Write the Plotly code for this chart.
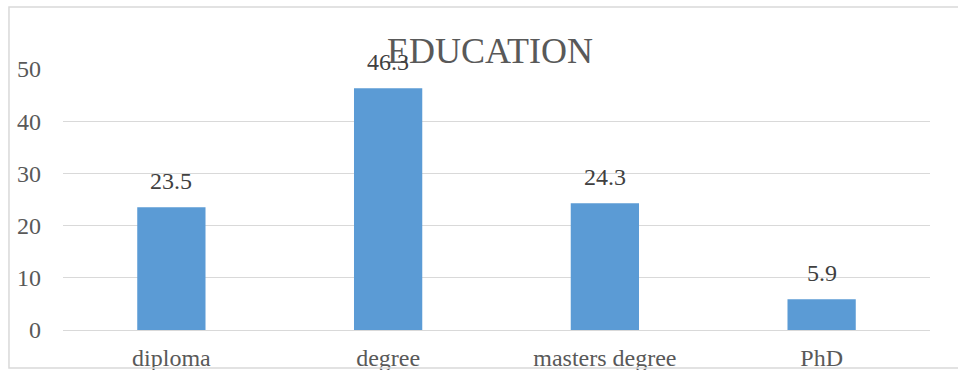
import plotly.graph_objects as go

categories = ["diploma", "degree", "masters degree", "PhD"]
values = [23.5, 46.3, 24.3, 5.9]
y_ticks = [0, 10, 20, 30, 40, 50]
title_text = "EDUCATION"

FONT = "Liberation Serif, Times New Roman, serif"

fig = go.Figure()
fig.add_trace(go.Bar(
    x=categories, y=values,
    marker=dict(color="#5b9bd5", line=dict(width=0)),
    width=0.315,
    hoverinfo="x+y",
))

for c, v in zip(categories, values):
    fig.add_annotation(
        x=c, y=v, text=str(v), showarrow=False,
        yanchor="bottom", yshift=11,
        font=dict(family=FONT, size=24, color="#404040"),
    )

# chart border
fig.add_shape(
    type="rect", xref="paper", yref="paper",
    x0=-0.0623, x1=1.04, y0=-0.1456, y1=1.2375,
    line=dict(color="#d9d9d9", width=1.5), layer="above",
)

fig.update_layout(
    width=958, height=370,
    margin=dict(l=63, r=28, t=69, b=40, autoexpand=False),
    paper_bgcolor="white", plot_bgcolor="white",
    showlegend=False,
    title=dict(
        text=title_text, x=0.4925, xref="paper", xanchor="center",
        y=1 - 50 / 370, yref="container", yanchor="middle",
        font=dict(family=FONT, size=36, color="#595959"),
    ),
    xaxis=dict(
        showgrid=False, showline=True, linecolor="#d9d9d9", linewidth=1,
        ticks="", tickfont=dict(family=FONT, size=24, color="#595959"),
        ticklabelstandoff=6, automargin=False,
    ),
    yaxis=dict(
        range=[0, 50], tickvals=y_ticks,
        showgrid=True, gridcolor="#d9d9d9", gridwidth=1,
        zeroline=False, showline=False, ticks="",
        tickfont=dict(family=FONT, size=24, color="#595959"),
        ticklabelstandoff=21, automargin=False,
    ),
)

fig.write_html("out.html")
